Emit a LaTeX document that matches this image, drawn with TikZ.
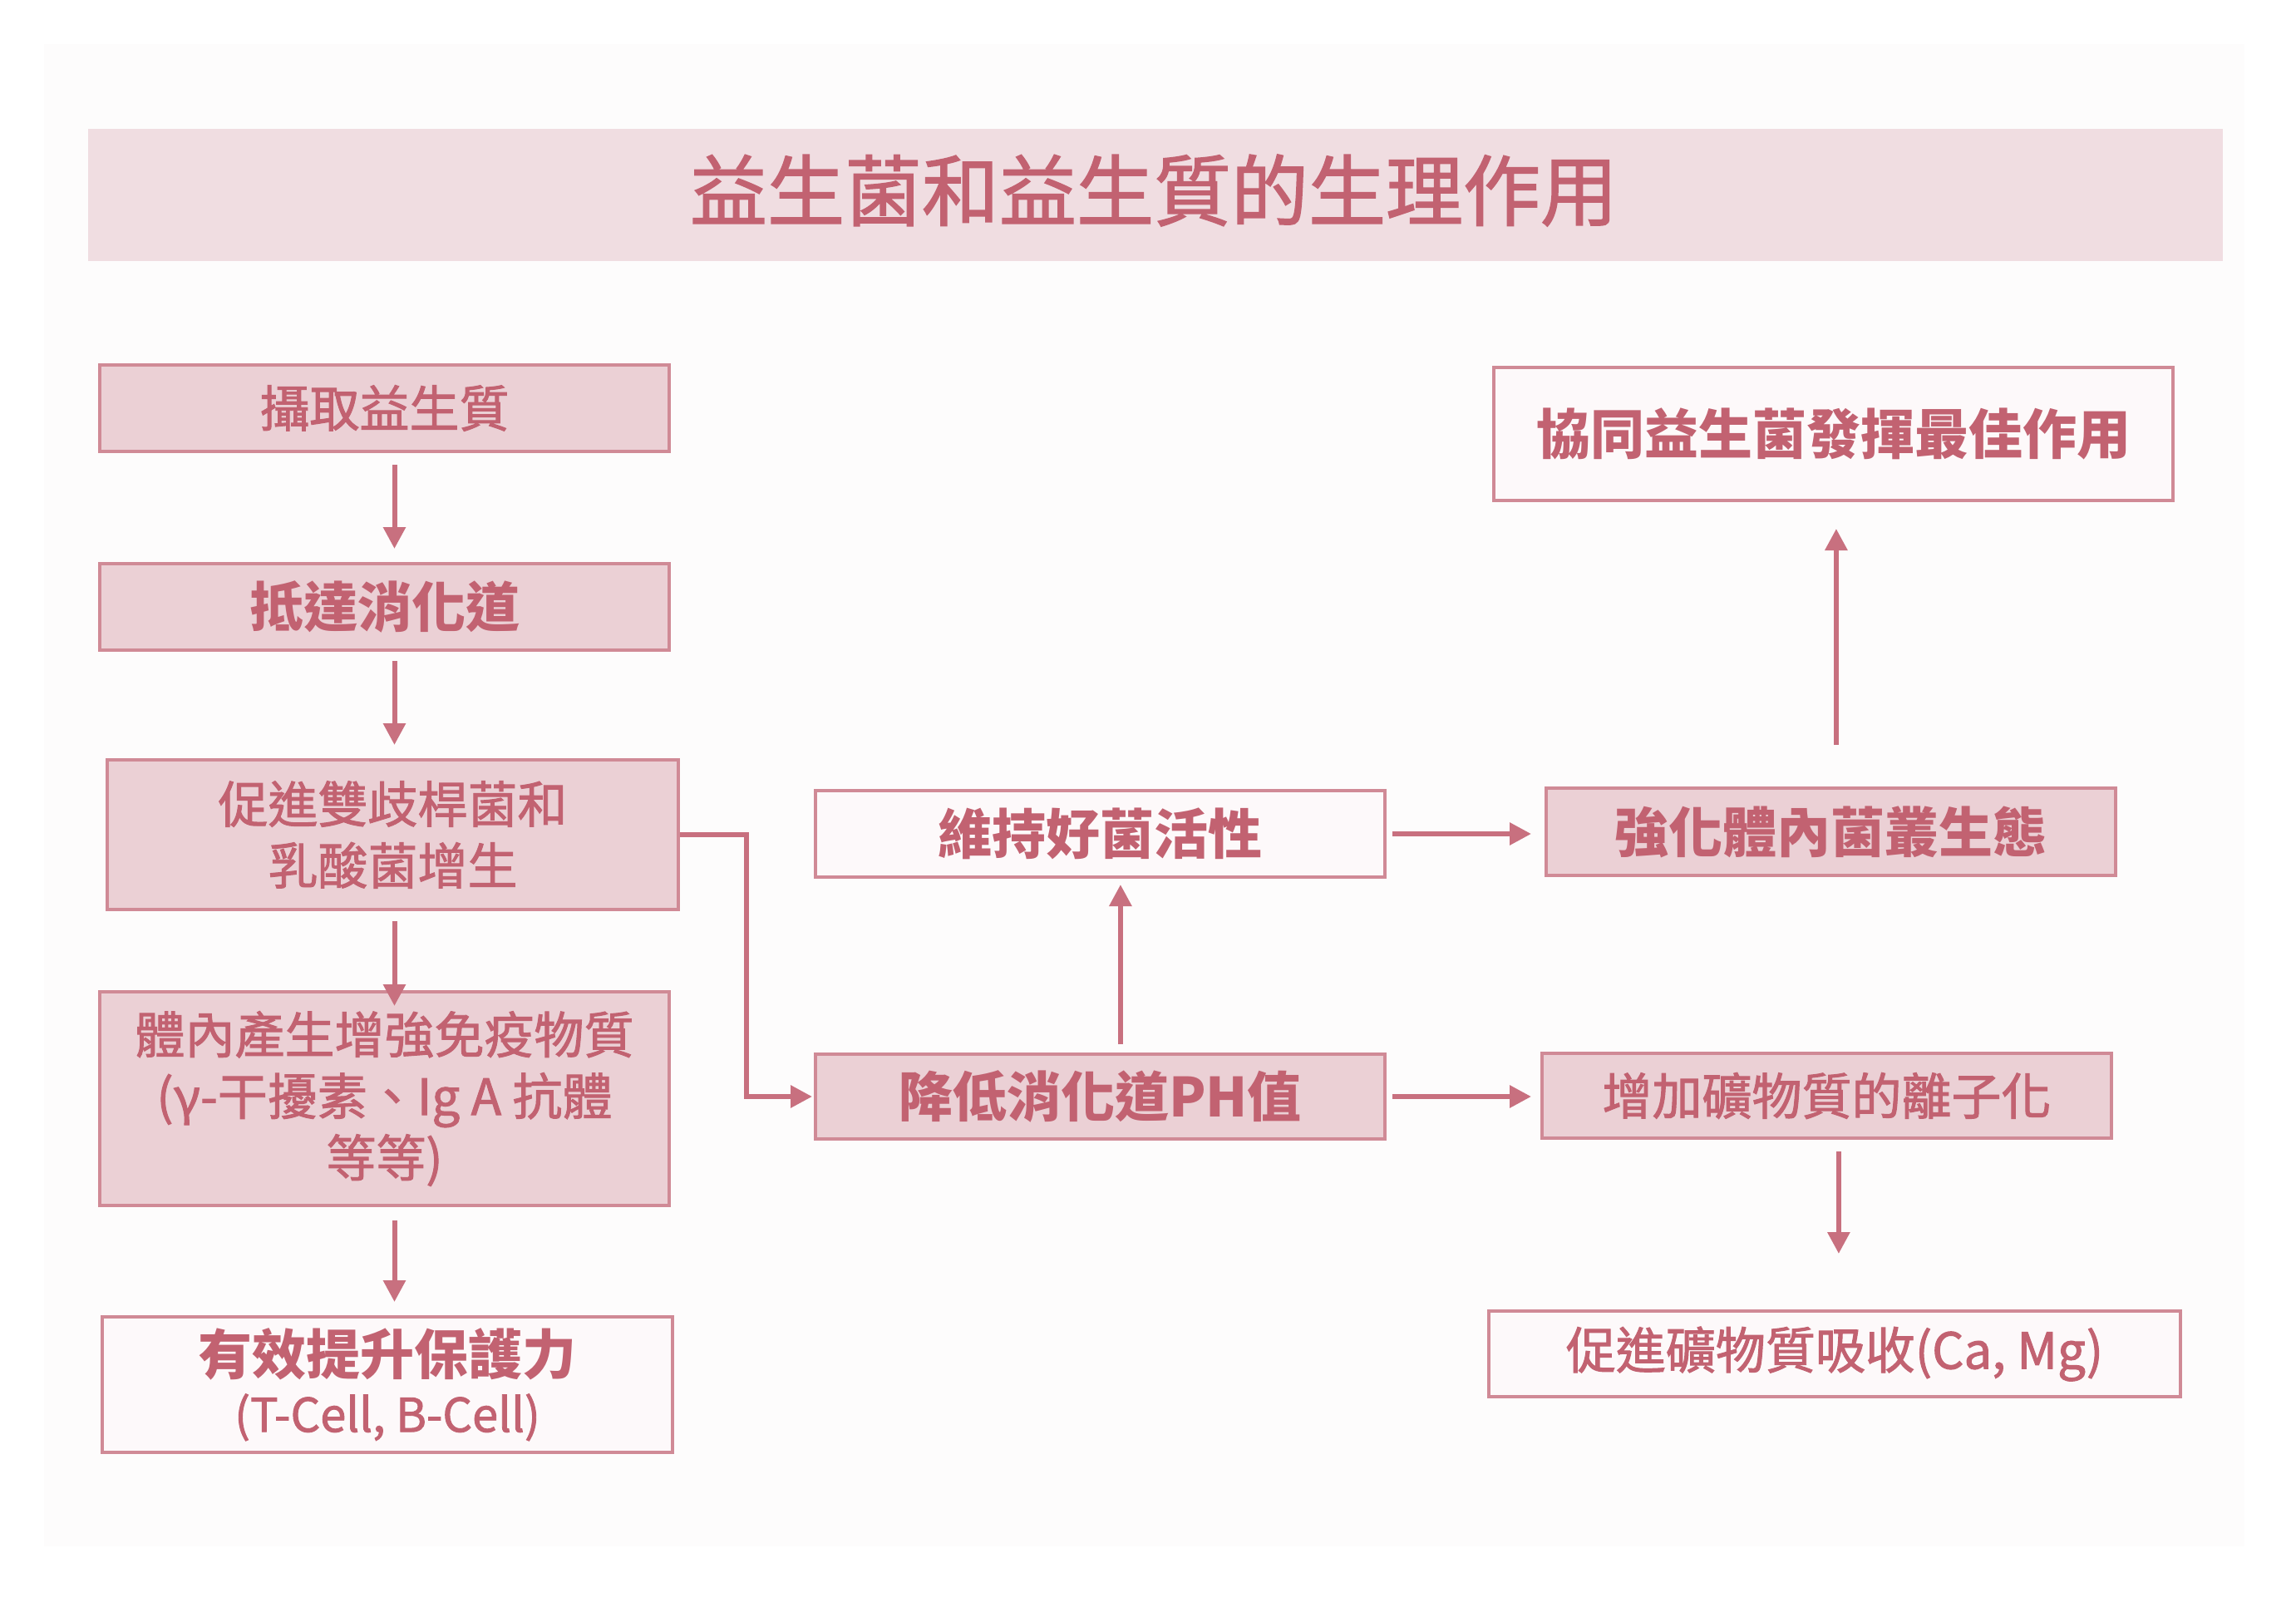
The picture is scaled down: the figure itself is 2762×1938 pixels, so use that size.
\documentclass[tikz,border=0pt]{standalone}
\usepackage{fontspec}
\newfontfamily\cjk{Noto Sans CJK TC}
\newfontfamily\cjkm{Noto Sans CJK TC}[FakeBold=1.6]
\usetikzlibrary{arrows.meta}
\definecolor{txt}{RGB}{194,98,113}
\definecolor{bord}{RGB}{208,138,150}
\definecolor{pinkfill}{RGB}{235,208,213}
\definecolor{titlefill}{RGB}{240,221,225}
\definecolor{arr}{RGB}{200,112,127}
\definecolor{whitefill}{RGB}{253,249,250}
\definecolor{panel}{RGB}{253,252,252}
\tikzset{
 box/.style={draw=bord, line width=1pt, rectangle, inner sep=0pt, align=center, text=txt},
 pinkbox/.style={box, fill=pinkfill},
 whitebox/.style={box, fill=whitefill},
 sanst/.style={font=\cjkm\fontsize{15pt}{18.5pt}\selectfont},
 serift/.style={font=\cjk\bfseries\fontsize{16.25pt}{20pt}\selectfont},
 conn/.style={draw=arr, line width=1.5pt, -{Triangle[width=6.5pt,length=6.5pt]}},
}
\begin{document}
\begin{tikzpicture}[x=0.25pt,y=-0.25pt]
\useasboundingbox (0,0) rectangle (2762,1938);
\fill[panel] (53,53) rectangle (2700,1860);
\node[fill=titlefill, minimum width=642pt, minimum height=39.75pt, inner sep=0pt] (title) at (1390,234.5) {};
\node[text=txt, font=\cjkm\fontsize{23.25pt}{28pt}\selectfont] (titletext) at (1388,229) {益生菌和益生質的生理作用};

% left column
\node[pinkbox, sanst, minimum width=171.25pt, minimum height=26pt] (b1) at (462.5,491) {攝取益生質};
\node[pinkbox, serift, minimum width=171.25pt, minimum height=26pt] (b2) at (462.5,730) {抵達消化道};
\node[pinkbox, sanst, minimum width=171.75pt, minimum height=45pt] (b3) at (472.5,1004) {促進雙歧桿菌和\\乳酸菌增生};
\node[pinkbox, sanst, minimum width=171.25pt, minimum height=64.25pt] (b4) at (462.5,1321.5) {體內產生增強免疫物質\\(γ-干擾素、Ig A 抗體\\等等)};
\node[whitebox, minimum width=171.5pt, minimum height=40.75pt] (b5) at (466,1665.5)
  {{\cjk\bfseries\fontsize{16.25pt}{20pt}\selectfont 有效提升保護力}\\[3pt]
   {\cjkm\fontsize{14pt}{17pt}\selectfont (T-Cell, B-Cell)}};

% middle column
\node[pinkbox, serift, minimum width=171.25pt, minimum height=25.5pt] (c1) at (1323.5,1319) {降低消化道PH值};
\node[whitebox, serift, minimum width=171.25pt, minimum height=26pt] (c2) at (1323.5,1003) {維持好菌活性};

% right column
\node[pinkbox, serift, minimum width=171.25pt, minimum height=26.25pt] (d1) at (2202.5,1000.5) {強化體內菌叢生態};
\node[whitebox, serift, minimum width=204.25pt, minimum height=40pt] (d2) at (2205.5,522) {協同益生菌發揮最佳作用};
\node[pinkbox, sanst, minimum width=171.25pt, minimum height=25.5pt] (d3) at (2197.5,1318) {增加礦物質的離子化};
\node[whitebox, sanst, minimum width=208pt, minimum height=25.75pt] (d4) at (2207,1628.5) {促進礦物質吸收(Ca, Mg)};

% connectors
\draw[conn, shorten <=3.5pt, shorten >=4pt] ([xshift=3pt]b1.south) -- ([xshift=3pt]b2.north);
\draw[conn, shorten <=2.75pt, shorten >=4pt] ([xshift=3pt]b2.south) -- ([xshift=3pt]b2.south |- b3.north);
\draw[conn, shorten <=3pt, shorten >=-4.75pt] ([xshift=0.5pt]b3.south) -- ([xshift=0.5pt]b3.south |- b4.north);
\draw[conn, shorten <=4pt, shorten >=4pt] ([xshift=3pt]b4.south) -- ([xshift=3pt]b4.south |- b5.north);
\coordinate (elbow) at (898,1004);
\draw[conn, shorten >=0.5pt] (b3.east) -- (elbow) |- (c1.west);
\draw[conn, shorten <=2.5pt, shorten >=1.75pt] ([xshift=6.1pt]c1.north) -- ([xshift=6.1pt]c2.south);
\draw[conn, shorten <=1.75pt, shorten >=4pt] (c2.east) -- (c2.east -| d1.west);
\draw[conn, shorten <=1.75pt, shorten >=2.75pt] (c1.east) -- (c1.east -| d3.west);
\draw[conn, shorten <=12.5pt, shorten >=8pt] ([xshift=1.6pt]d1.north) -- ([xshift=1.6pt]d1.north |- d2.south);
\draw[conn, shorten <=3.5pt, shorten >=16.75pt] ([xshift=3.6pt]d3.south) -- ([xshift=3.6pt]d3.south |- d4.north);
\end{tikzpicture}
\end{document}
